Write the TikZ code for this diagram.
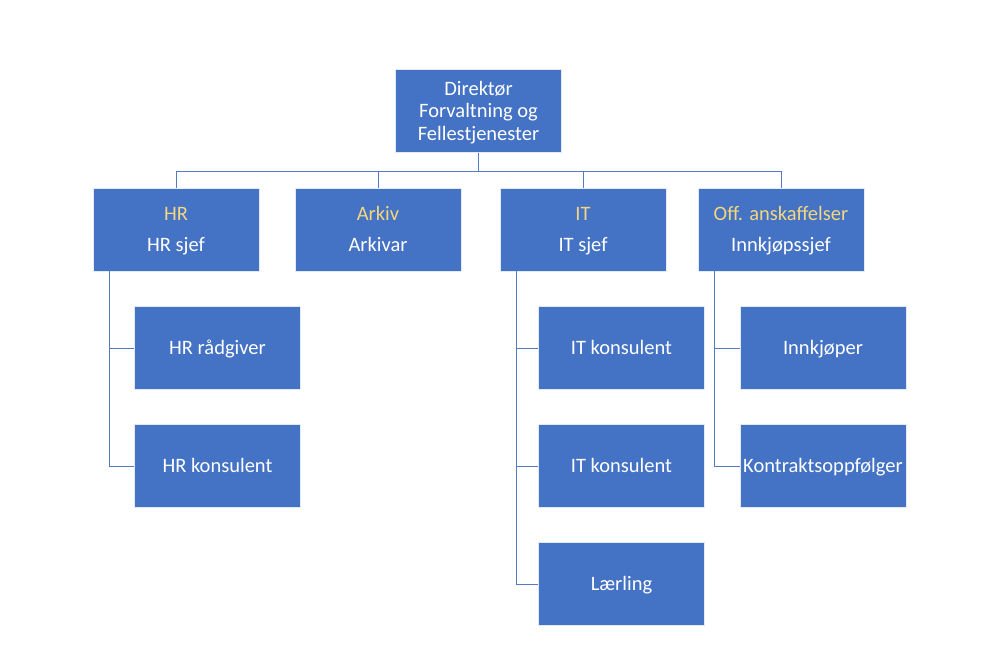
\documentclass[tikz,border=0pt]{standalone}
\usepackage{fontspec}
\setmainfont{Carlito}
\definecolor{boxblue}{HTML}{4472C4}
\definecolor{linkblue}{HTML}{5479C6}
\definecolor{headgold}{HTML}{F3D67F}
\newcommand\ls{\rule[-4.5pt]{0pt}{22.5pt}}
\begin{document}
\begin{tikzpicture}[x=1pt,y=-1pt,
  unit/.style={draw=white!85!boxblue,line width=0.6pt,fill=boxblue,text=white,
    minimum width=166pt,minimum height=83pt,inner sep=0pt,align=center,
    font=\fontsize{20.5}{22.5}\selectfont},
  link/.style={draw=linkblue,line width=1pt}]
\useasboundingbox (0,0) rectangle (990,660);
\node[unit] (dir) at (478.5,111) {\ls Direktør\\\ls Forvaltning og\\\ls Fellestjenester};
\node[unit] (hr) at (176,229.5) {\ls\textcolor{headgold}{HR}\\[8.5pt]\ls HR sjef};
\node[unit] (ark) at (378,229.5) {\ls\textcolor{headgold}{Arkiv}\\[8.5pt]\ls Arkivar};
\node[unit] (it) at (583,229.5) {\ls\textcolor{headgold}{IT}\\[8.5pt]\ls IT sjef};
\node[unit] (off) at (781,229.5) {\ls\textcolor{headgold}{Off. anskaffelser}\\[8.5pt]\ls Innkjøpssjef};
\node[unit] (hrr) at (217.5,348) {\ls HR rådgiver};
\node[unit] (hrk) at (217.5,466) {\ls HR konsulent};
\node[unit] (itk1) at (621.5,348) {\ls IT konsulent};
\node[unit] (itk2) at (621.5,466) {\ls IT konsulent};
\node[unit] (lrl) at (621.5,584) {\ls Lærling};
\node[unit] (ink) at (823,348) {\ls Innkjøper};
\node[unit] (kon) at (823,466) {\ls Kontraktsoppfølger};
\foreach \c in {hr,ark,it,off}
  \draw[link] (dir.south) -- ++(0,18.5) -| (\c.north);
\foreach \p/\c in {hr/hrr,hr/hrk,it/itk1,it/itk2,it/lrl,off/ink,off/kon}
  \draw[link] ([xshift=-67pt]\p.south) |- (\c.west);
\end{tikzpicture}
\end{document}
